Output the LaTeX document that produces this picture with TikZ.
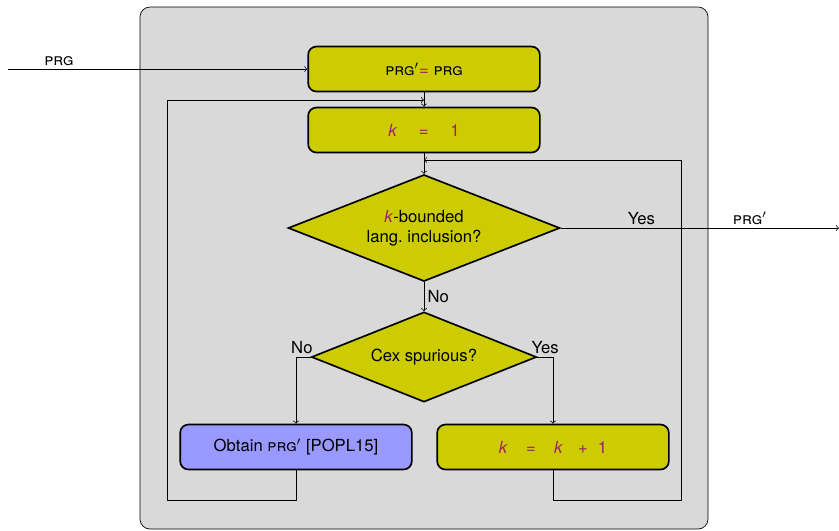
\documentclass[tikz,border=0pt]{standalone}
\usepackage{fontspec}
\setmainfont{TeX Gyre Heros}
\usetikzlibrary{shapes,arrows}
\definecolor{boxyellow}{RGB}{204,204,0}
\definecolor{boxblue}{RGB}{153,153,255}
\definecolor{panelgray}{RGB}{217,217,217}
\definecolor{kcolor}{RGB}{160,30,110}
\tikzset{
    block/.style = {draw, rectangle, rounded corners=5pt,
        line width=1pt, fill=boxyellow,
        minimum height=27pt,
        minimum width=139pt},
    decision/.style = {draw, diamond, line width=1pt,
        fill=boxyellow, inner sep=0pt, align=center},
    label/.style = {inner sep=2pt}
}
\newcommand{\prg}{\textsc{prg}}
\newcommand{\kvar}{\textit{k}}

\begin{document}
\begin{tikzpicture}[x=0.6pt, y=-0.6pt]
                \useasboundingbox (0,0) rectangle (839,530);
                \draw[fill=panelgray, rounded corners=6pt] (140,7) rectangle (708,529);
                \node[block] (init) at (424,69) {\prg$'${\color{kcolor}=} \prg};
                \node[block] (kone) at (424,130) {\color{kcolor}\kvar\hspace{13pt}=\hspace{13pt}1};
                \node[decision, shape aspect=2.57, minimum width=163pt, minimum height=64pt] (incl) at (424,228)
                    {{\color{kcolor}\kvar}-bounded\\lang.\ inclusion?};
                \node[decision, shape aspect=2.5, minimum width=135pt, minimum height=54pt] (cex) at (424,357) {Cex spurious?};
                \node[block, fill=boxblue] (obtain) at (296,447) {Obtain \prg$'$ [POPL15]};
                \node[block] (kinc) at (553,447)
                    {\color{kcolor}\kvar\hspace{11pt}=\hspace{11pt}\kvar\hspace{9pt}+\hspace{6pt}1};
                \coordinate (in) at (8,69);
                \coordinate (out) at (839,228);
                \coordinate (join1) at (424,100);
                \coordinate (join2) at (424,160);
                \coordinate (loopl) at (167,500);
                \coordinate (loopr) at (681,500);
                \draw [->] (in) -- node[label, above, pos=0.17] {\prg} (init.west);
                \draw [->] (init) -- (kone);
                \draw [->] (kone) -- (incl);
                \draw [->] (incl.east) -- node[label, above, pos=0.29] {Yes}
                    node[label, above, pos=0.68] {\prg$'$} (out);
                \draw [->] (incl) -- node[label, right] {No} (cex);
                \draw [->] (cex.west) -| node[label, above, pos=0.3] {No} (obtain.north);
                \draw [->] (cex.east) -| node[label, above, pos=0.25] {Yes} (kinc.north);
                \draw [->] (obtain.south) |- (loopl) |- (join1);
                \draw [->] (kinc.south) |- (loopr) |- (join2);
            \end{tikzpicture}
\end{document}
